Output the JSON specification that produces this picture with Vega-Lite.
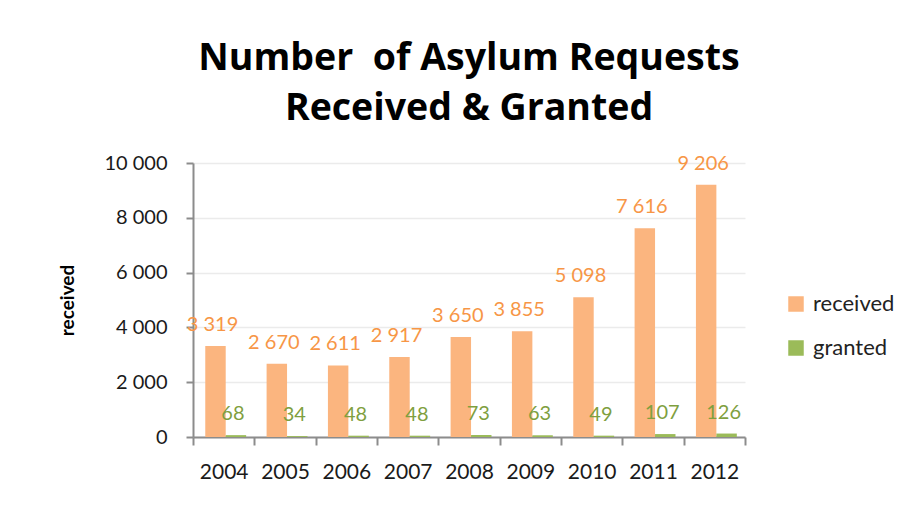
{
  "$schema": "https://vega.github.io/schema/vega-lite/v6.json",
  "width": 552,
  "height": 274,
  "autosize": {"type": "none"},
  "padding": {"left": 193, "top": 163, "right": 170, "bottom": 76},
  "background": "white",
  "config": {
    "locale": {"number": {"decimal": ".", "thousands": " ", "grouping": [3], "currency": ["", ""]}},
    "view": {"stroke": null},
    "font": "Lato"
  },
  "title": {
    "text": ["Number\u00a0 of Asylum Requests", "Received & Granted"],
    "fontSize": 37.5,
    "fontWeight": "bold",
    "font": "Open Sans",
    "color": "#000000",
    "anchor": "middle",
    "lineHeight": 50,
    "offset": 26
  },
  "data": {
    "values": [
      {"year": "2004", "series": "received", "value": 3319},
      {"year": "2005", "series": "received", "value": 2670},
      {"year": "2006", "series": "received", "value": 2611},
      {"year": "2007", "series": "received", "value": 2917},
      {"year": "2008", "series": "received", "value": 3650},
      {"year": "2009", "series": "received", "value": 3855},
      {"year": "2010", "series": "received", "value": 5098},
      {"year": "2011", "series": "received", "value": 7616},
      {"year": "2012", "series": "received", "value": 9206},
      {"year": "2004", "series": "granted", "value": 68},
      {"year": "2005", "series": "granted", "value": 34},
      {"year": "2006", "series": "granted", "value": 48},
      {"year": "2007", "series": "granted", "value": 48},
      {"year": "2008", "series": "granted", "value": 73},
      {"year": "2009", "series": "granted", "value": 63},
      {"year": "2010", "series": "granted", "value": 49},
      {"year": "2011", "series": "granted", "value": 107},
      {"year": "2012", "series": "granted", "value": 126}
    ]
  },
  "encoding": {
    "x": {
      "field": "year",
      "type": "nominal",
      "scale": {"paddingInner": 0, "paddingOuter": 0},
      "axis": {
        "title": null,
        "labelAngle": 0,
        "labelFontSize": 21,
        "labelColor": "#1a1a1a",
        "labelPadding": 16,
        "tickBand": "extent",
        "tickSize": 8,
        "tickColor": "#8c8c8c",
        "tickWidth": 2,
        "domainColor": "#8c8c8c",
        "domainWidth": 2,
        "grid": false
      }
    },
    "xOffset": {
      "field": "series",
      "type": "nominal",
      "sort": ["received", "granted"],
      "scale": {"paddingInner": 0, "paddingOuter": 0.5, "align": 0.6}
    },
    "y": {
      "field": "value",
      "type": "quantitative",
      "scale": {"domain": [0, 10000]},
      "axis": {
        "values": [0, 2000, 4000, 6000, 8000, 10000],
        "format": ",d",
        "title": "received",
        "titleFontSize": 19,
        "titleFontWeight": "bold",
        "titleColor": "#000000",
        "titlePadding": 26,
        "labelFontSize": 20,
        "labelColor": "#1a1a1a",
        "labelPadding": 19,
        "tickSize": 7,
        "tickColor": "#8c8c8c",
        "tickWidth": 2,
        "domainColor": "#8c8c8c",
        "domainWidth": 2,
        "grid": true,
        "gridColor": "#ebebeb",
        "gridWidth": 1.5
      }
    }
  },
  "layer": [
    {
      "mark": {"type": "bar"},
      "encoding": {
        "color": {
          "field": "series",
          "type": "nominal",
          "sort": ["received", "granted"],
          "scale": {"domain": ["received", "granted"], "range": ["#fbb57f", "#9bbb59"]},
          "legend": {
            "title": null,
            "orient": "none",
            "legendX": 592,
            "legendY": 130,
            "symbolType": "square",
            "symbolSize": 240,
            "symbolStrokeWidth": 0,
            "labelFontSize": 22,
            "labelColor": "#222222",
            "labelOffset": 6,
            "rowPadding": 22
          }
        }
      }
    },
    {
      "mark": {"type": "text", "baseline": "alphabetic", "dy": -15, "dx": -3, "fontSize": 20, "font": "Lato"},
      "encoding": {
        "text": {"field": "value", "type": "quantitative", "format": ",d"},
        "fill": {
          "field": "series",
          "type": "nominal",
          "scale": {"domain": ["received", "granted"], "range": ["#f79646", "#7f9f3f"]},
          "legend": null
        }
      }
    }
  ]
}
